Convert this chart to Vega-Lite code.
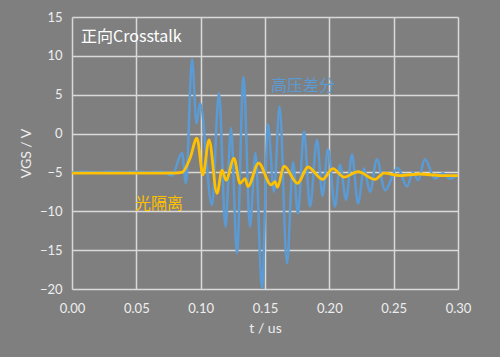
{
  "$schema": "https://vega.github.io/schema/vega-lite/v6.json",
  "width": 386,
  "height": 272,
  "autosize": "none",
  "padding": {"left": 72, "top": 17, "right": 42, "bottom": 68},
  "background": "#7f7f7f",
  "config": {
    "view": {"stroke": null, "fill": "#7f7f7f"},
    "axis": {
      "gridColor": "#d9d9d9", "gridWidth": 1.5, "gridOpacity": 1,
      "domain": false, "ticks": false, "labelOverlap": false, "labelFlush": false,
      "labelColor": "#eeeeee", "labelFont": "Lato", "labelFontSize": 13,
      "titleColor": "#eeeeee", "titleFont": "Lato", "titleFontSize": 14, "titleFontWeight": "normal"
    }
  },
  "datasets": {
    "blue": [
      {"t": 0.000, "v": -5.0}, {"t": 0.010, "v": -4.9}, {"t": 0.020, "v": -5.0}, {"t": 0.030, "v": -4.9},
      {"t": 0.040, "v": -5.0}, {"t": 0.050, "v": -4.9}, {"t": 0.060, "v": -5.0}, {"t": 0.070, "v": -4.9},
      {"t": 0.0777, "v": -5.4}, {"t": 0.0855, "v": -2.5}, {"t": 0.0886, "v": -6.4}, {"t": 0.0933, "v": 9.6},
      {"t": 0.0968, "v": 1.3}, {"t": 0.0995, "v": 3.9}, {"t": 0.1088, "v": -9.2}, {"t": 0.1142, "v": 5.2},
      {"t": 0.1193, "v": -12.0}, {"t": 0.1236, "v": 0.7}, {"t": 0.1282, "v": -15.4}, {"t": 0.1333, "v": 7.3},
      {"t": 0.1383, "v": -12.0}, {"t": 0.1426, "v": -2.5}, {"t": 0.1477, "v": -20.0}, {"t": 0.1523, "v": 1.2},
      {"t": 0.1570, "v": -7.5}, {"t": 0.1613, "v": 3.5}, {"t": 0.1671, "v": -16.7}, {"t": 0.1718, "v": -3.7},
      {"t": 0.1756, "v": -10.3}, {"t": 0.1803, "v": 0.3}, {"t": 0.1850, "v": -9.4}, {"t": 0.1904, "v": -0.8},
      {"t": 0.1947, "v": -8.0}, {"t": 0.1990, "v": -2.0}, {"t": 0.2044, "v": -9.4}, {"t": 0.2083, "v": -4.0},
      {"t": 0.2130, "v": -8.5}, {"t": 0.2176, "v": -2.7}, {"t": 0.2223, "v": -9.0}, {"t": 0.2270, "v": -4.5},
      {"t": 0.2316, "v": -7.5}, {"t": 0.2370, "v": -3.3}, {"t": 0.2433, "v": -7.3}, {"t": 0.2530, "v": -4.4},
      {"t": 0.2604, "v": -6.8}, {"t": 0.2650, "v": -5.0}, {"t": 0.2690, "v": -6.0}, {"t": 0.2743, "v": -3.3},
      {"t": 0.2821, "v": -5.8}, {"t": 0.2883, "v": -5.1}, {"t": 0.2938, "v": -5.8}, {"t": 0.3000, "v": -5.3}
    ],
    "orange": [
      {"t": 0.000, "v": -5.1}, {"t": 0.080, "v": -5.1}, {"t": 0.0855, "v": -5.0}, {"t": 0.0917, "v": -3.2},
      {"t": 0.0971, "v": -0.6}, {"t": 0.1018, "v": -5.3}, {"t": 0.1065, "v": -0.8}, {"t": 0.1127, "v": -7.7},
      {"t": 0.1166, "v": -4.7}, {"t": 0.1197, "v": -6.0}, {"t": 0.1259, "v": -3.2}, {"t": 0.1306, "v": -6.4},
      {"t": 0.1345, "v": -5.8}, {"t": 0.1368, "v": -6.8}, {"t": 0.1450, "v": -3.8}, {"t": 0.1547, "v": -6.6},
      {"t": 0.1578, "v": -6.2}, {"t": 0.1597, "v": -6.9}, {"t": 0.1648, "v": -4.2}, {"t": 0.1753, "v": -6.4},
      {"t": 0.1834, "v": -4.3}, {"t": 0.1947, "v": -5.9}, {"t": 0.2028, "v": -4.5}, {"t": 0.2114, "v": -5.6},
      {"t": 0.2223, "v": -4.9}, {"t": 0.2355, "v": -5.9}, {"t": 0.2425, "v": -5.1}, {"t": 0.2549, "v": -5.4},
      {"t": 0.2705, "v": -5.2}, {"t": 0.2860, "v": -5.4}, {"t": 0.3000, "v": -5.4}
    ],
    "labels": [
      {"t": 0.007, "v": 12.4, "text": "正向Crosstalk", "series": "title"},
      {"t": 0.1547, "v": 6.1, "text": "高压差分", "series": "blue"},
      {"t": 0.049, "v": -9.0, "text": "光隔离", "series": "orange"}
    ]
  },
  "encoding": {
    "x": {"field": "t", "type": "quantitative",
          "scale": {"domain": [0, 0.3], "nice": false},
          "axis": {"values": [0, 0.05, 0.1, 0.15, 0.2, 0.25, 0.3], "format": ".2f", "labelPadding": 13, "title": "t / us", "titlePadding": 6}},
    "y": {"field": "v", "type": "quantitative",
          "scale": {"domain": [-20, 15], "nice": false},
          "axis": {"values": [-20, -15, -10, -5, 0, 5, 10, 15], "tickCount": 8, "labelPadding": 10, "title": "VGS / V", "titlePadding": 6}}
  },
  "layer": [
    {
      "data": {"name": "blue"},
      "mark": {"type": "line", "color": "#5b9bd5", "strokeWidth": 2.5, "interpolate": "monotone", "clip": true}
    },
    {
      "data": {"name": "orange"},
      "mark": {"type": "line", "color": "#ffc000", "strokeWidth": 2.8, "interpolate": "monotone", "clip": true}
    },
    {
      "data": {"name": "labels"},
      "mark": {"type": "text", "align": "left", "baseline": "middle", "font": "Noto Sans CJK SC", "fontSize": 16},
      "encoding": {
        "text": {"field": "text"},
        "color": {"field": "series", "type": "nominal",
                  "scale": {"domain": ["title", "blue", "orange"], "range": ["#ffffff", "#5b9bd5", "#ffc000"]},
                  "legend": null},
        "fontWeight": {"condition": {"test": "datum.series === 'title'", "value": "bold"}, "value": "normal"}
      }
    }
  ]
}
